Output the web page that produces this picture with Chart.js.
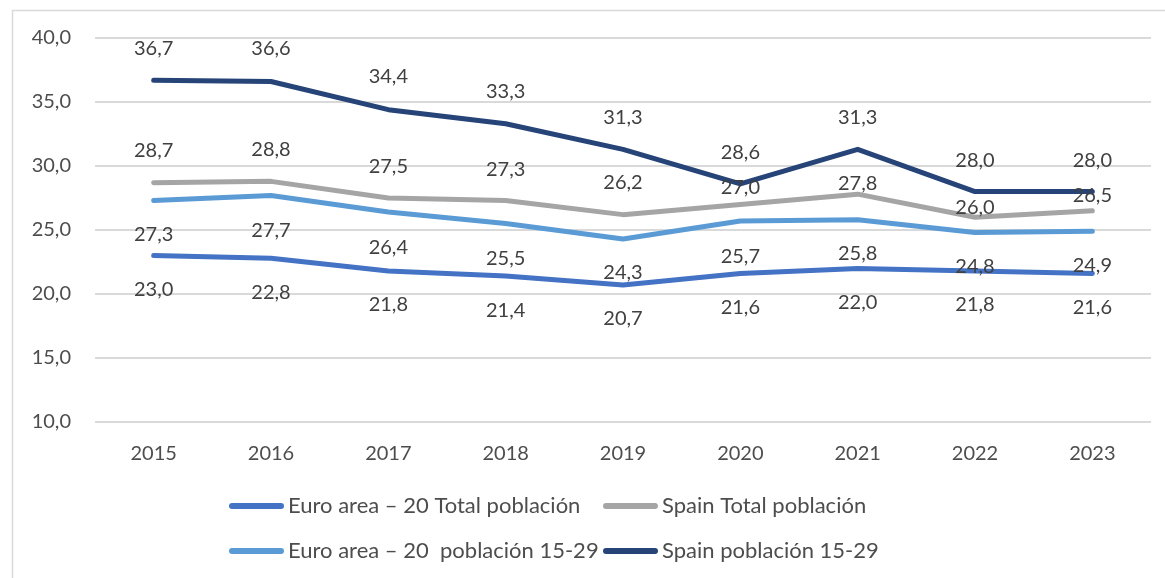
<!DOCTYPE html>
<html lang="es">
<head>
<meta charset="utf-8">
<title>Euro area vs Spain</title>
<script src="https://cdn.jsdelivr.net/npm/chart.js@4.4.1/dist/chart.umd.min.js"></script>
<style>
  html, body { margin: 0; padding: 0; background: #fff; }
  #wrap { position: relative; width: 1165px; height: 578px; }
</style>
</head>
<body>
<div id="wrap"><canvas id="chart" width="1165" height="578"></canvas></div>
<script>
// datos
const years = ['2015', '2016', '2017', '2018', '2019', '2020', '2021', '2022', '2023'];
const euroTotal = [23.0, 22.8, 21.8, 21.4, 20.7, 21.6, 22.0, 21.8, 21.6];
const spainTotal = [28.7, 28.8, 27.5, 27.3, 26.2, 27.0, 27.8, 26.0, 26.5];
const euroYoung = [27.3, 27.7, 26.4, 25.5, 24.3, 25.7, 25.8, 24.8, 24.9];
const spainYoung = [36.7, 36.6, 34.4, 33.3, 31.3, 28.6, 31.3, 28.0, 28.0];
const yTicks = [10, 15, 20, 25, 30, 35, 40];

const seriesNames = [
    'Euro area – 20 Total población',
    'Spain Total población',
    'Euro area – 20  población 15-29',
    'Spain población 15-29'
];
const seriesColors = ['#4472C4', '#A5A5A5', '#5B9BD5', '#264478'];

// desplazamiento vertical de las etiquetas (px), por serie
const labelShift = [
    [34, 34, 34, 34, 34, 34, 34, 34, 34],
    [-32, -32, -31, -31, -32, -17, -11, -10, -15],
    [34, 35, 35, 35, 34, 36, 34, 34, 34],
    [-32, -33, -33, -32, -32, -31, -32, -31, -31]
];

const FONT = 'Lato, "Open Sans", sans-serif';
const TEXT = '#4d4d4d';
const fmt = v => v.toFixed(1).replace('.', ',');

// etiquetas de datos
const valueLabels = {
    id: 'valueLabels',
    afterDatasetsDraw(chart) {
        const ctx = chart.ctx;
        ctx.save();
        ctx.font = '20px ' + FONT;
        ctx.fillStyle = '#404040';
        ctx.textAlign = 'center';
        ctx.textBaseline = 'middle';
        chart.data.datasets.forEach((ds, di) => {
            const meta = chart.getDatasetMeta(di);
            meta.data.forEach((pt, i) => {
                ctx.fillText(fmt(ds.data[i]), pt.x, pt.y + labelShift[di][i]);
            });
        });
        ctx.restore();
    }
};

// leyenda en dos columnas + marco
const legendBox = {
    id: 'legendBox',
    afterDraw(chart) {
        const ctx = chart.ctx;
        ctx.save();
        // marco
        ctx.strokeStyle = '#D9D9D9';
        ctx.lineWidth = 1.5;
        ctx.beginPath();
        ctx.moveTo(12.5, 578);
        ctx.lineTo(12.5, 10.5);
        ctx.lineTo(1165, 10.5);
        ctx.stroke();

        const cols = [229, 603];
        const rows = [506, 551];
        ctx.font = '22px ' + FONT;
        ctx.textBaseline = 'middle';
        ctx.textAlign = 'left';
        chart.data.datasets.forEach((ds, i) => {
            const x = cols[i % 2];
            const y = rows[Math.floor(i / 2)];
            ctx.strokeStyle = ds.borderColor;
            ctx.lineWidth = 6;
            ctx.lineCap = 'round';
            ctx.beginPath();
            ctx.moveTo(x + 3, y);
            ctx.lineTo(x + 52, y);
            ctx.stroke();
            ctx.fillStyle = TEXT;
            ctx.fillText(ds.label, x + 59, y);
        });
        ctx.restore();
    }
};

const allSeries = [euroTotal, spainTotal, euroYoung, spainYoung];

new Chart(document.getElementById('chart'), {
    type: 'line',
    data: {
        labels: years,
        datasets: allSeries.map((vals, i) => ({
            label: seriesNames[i],
            data: vals,
            borderColor: seriesColors[i],
            backgroundColor: seriesColors[i],
            borderWidth: 5,
            borderCapStyle: 'round',
            borderJoinStyle: 'round',
            pointRadius: 0,
            tension: 0,
            fill: false
        }))
    },
    options: {
        responsive: false,
        animation: false,
        layout: { padding: { top: 38, right: 14, bottom: 0, left: 0 } },
        plugins: {
            legend: { display: false },
            tooltip: { enabled: false }
        },
        scales: {
            x: {
                offset: true,
                grid: { display: false, drawTicks: false },
                border: { display: false },
                ticks: {
                    color: TEXT,
                    font: { family: FONT, size: 20 },
                    padding: 20,
                    maxRotation: 0
                },
                afterFit(scale) { scale.height = 156; }
            },
            y: {
                min: 10,
                max: 40,
                afterBuildTicks(scale) { scale.ticks = yTicks.map(v => ({ value: v })); },
                grid: { color: '#D9D9D9', lineWidth: 2, drawTicks: false },
                border: { display: false },
                ticks: {
                    color: TEXT,
                    font: { family: FONT, size: 20 },
                    padding: 24,
                    callback: v => fmt(v)
                },
                afterFit(scale) { scale.width = 95; }
            }
        }
    },
    plugins: [valueLabels, legendBox]
});
</script>
</body>
</html>
